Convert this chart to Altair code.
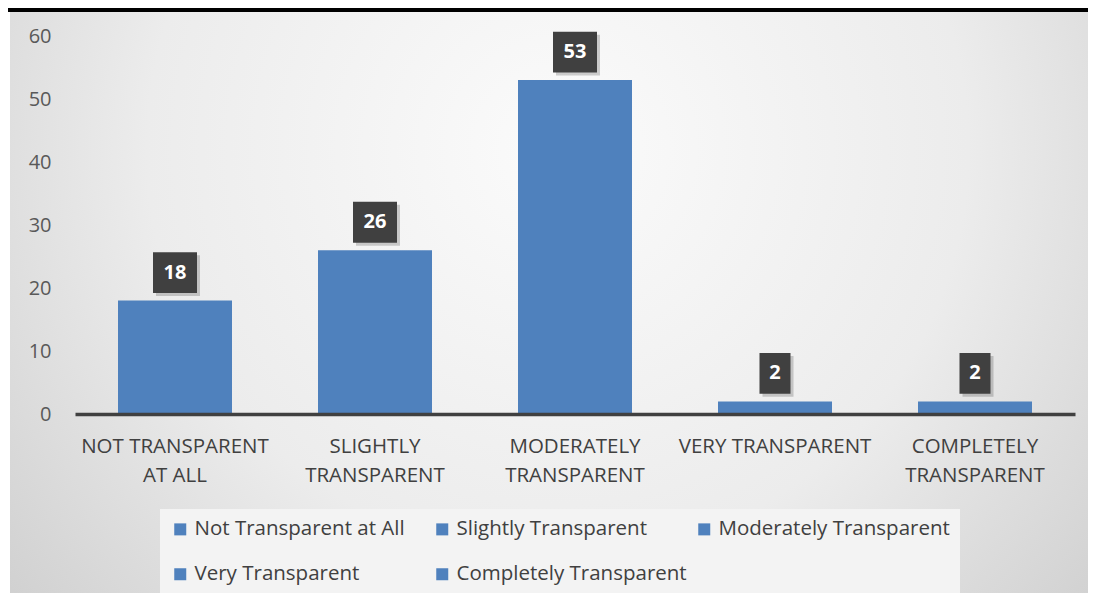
import altair as alt
import pandas as pd

categories = ["Not Transparent at All", "Slightly Transparent", "Moderately Transparent",
              "Very Transparent", "Completely Transparent"]
values = [18, 26, 53, 2, 2]
axis_labels = [["NOT TRANSPARENT", "AT ALL"], ["SLIGHTLY", "TRANSPARENT"],
               ["MODERATELY", "TRANSPARENT"], ["VERY TRANSPARENT"],
               ["COMPLETELY", "TRANSPARENT"]]
y_ticks = [0, 10, 20, 30, 40, 50, 60]

BLUE = "#4f81bd"
FONT = "Open Sans"

df = pd.DataFrame({"category": categories, "value": values})
df["digits"] = df["value"].astype(str).str.len().astype(str)

# label expression for multi-line x labels
expr = "''"
for cat, lab in reversed(list(zip(categories, axis_labels))):
    arr = "[" + ",".join("'" + s + "'" for s in lab) + "]"
    expr = f"datum.value == '{cat}' ? {arr} : ({expr})"

W, H = 1000, 378

bg = alt.Chart(pd.DataFrame({"k": [0]})).mark_rect(
    color=alt.RadialGradient(
        gradient="radial",
        x1=0.5, y1=0.35, r1=0.0, x2=0.5, y2=0.35, r2=0.75,
        stops=[alt.GradientStop(color="#fbfbfb", offset=0),
               alt.GradientStop(color="#ececec", offset=0.5),
               alt.GradientStop(color="#c6c6c6", offset=1)],
    )
).encode(x=alt.value(-65), x2=alt.value(1030), y=alt.value(-24), y2=alt.value(H + 200))

topline = alt.Chart(pd.DataFrame({"k": [0]})).mark_rule(color="#000000", strokeWidth=4).encode(
    x=alt.value(-75), x2=alt.value(1040), y=alt.value(-26)
)

xenc = alt.X("category:N", sort=categories,
             scale=alt.Scale(paddingInner=0.43, paddingOuter=0.215),
             axis=alt.Axis(title=None, labelAngle=0, labelExpr=expr, ticks=False,
                           domainColor="#404040", domainWidth=3.5, zindex=1, labelLimit=0,
                           labelFont=FONT, labelFontSize=20.5, labelColor="#404040",
                           labelPadding=22, labelLineHeight=29, labelBaseline="top"))
yenc = alt.Y("value:Q", scale=alt.Scale(domain=[0, 60]),
             axis=alt.Axis(title=None, values=y_ticks, grid=False, domain=False, ticks=False,
                           zindex=1,
                           labelFont=FONT, labelFontSize=20, labelColor="#595959",
                           labelPadding=24))

base = alt.Chart(df)

bars = base.mark_bar(color=BLUE).encode(
    x=xenc, y=yenc,
    color=alt.Color("category:N", sort=categories,
                    scale=alt.Scale(domain=categories, range=[BLUE] * 5),
                    legend=alt.Legend(title=None, orient="none", legendX=85, legendY=473,
                                      direction="horizontal", zindex=1,
                                      columns=3, gridAlign="all", symbolType="square",
                                      symbolSize=144, symbolStrokeWidth=0, labelLimit=0,
                                      labelFont=FONT, labelFontSize=20.5, labelColor="#404040",
                                      labelOffset=4, columnPadding=6, rowPadding=24,
                                      padding=10, fillColor="#f3f3f3")),
)

paths = ["M-0.705,-0.93L0.705,-0.93L0.705,0.93L-0.705,0.93Z",
         "M-1,-0.93L1,-0.93L1,0.93L-1,0.93Z"]
shape_scale = alt.Scale(domain=["1", "2"], range=paths)

shadow = base.mark_point(filled=True, size=1936, color="#000000", opacity=0.18,
                         xOffset=3, yOffset=-25, strokeWidth=0).encode(
    x=alt.X("category:N", sort=categories), y="value:Q",
    shape=alt.Shape("digits:N", scale=shape_scale, legend=None),
)
boxes = base.mark_point(filled=True, size=1936, color="#404040", opacity=1,
                        yOffset=-28, strokeWidth=0).encode(
    x=alt.X("category:N", sort=categories), y="value:Q",
    shape=alt.Shape("digits:N", scale=shape_scale, legend=None),
)
texts = base.mark_text(yOffset=-28, baseline="middle", align="center", color="white",
                       fontWeight="bold", font=FONT, fontSize=20).encode(
    x=alt.X("category:N", sort=categories), y="value:Q", text="value:Q"
)

chart = alt.layer(bg, topline, bars, shadow, boxes, texts).properties(
    width=W, height=H,
    autosize=alt.AutoSizeParams(type="none"),
    padding={"left": 67, "top": 28, "right": 13, "bottom": 179},
    background="white",
).configure_view(stroke=None)

chart.save("out.html", embed_options={"renderer": "svg", "actions": False})
